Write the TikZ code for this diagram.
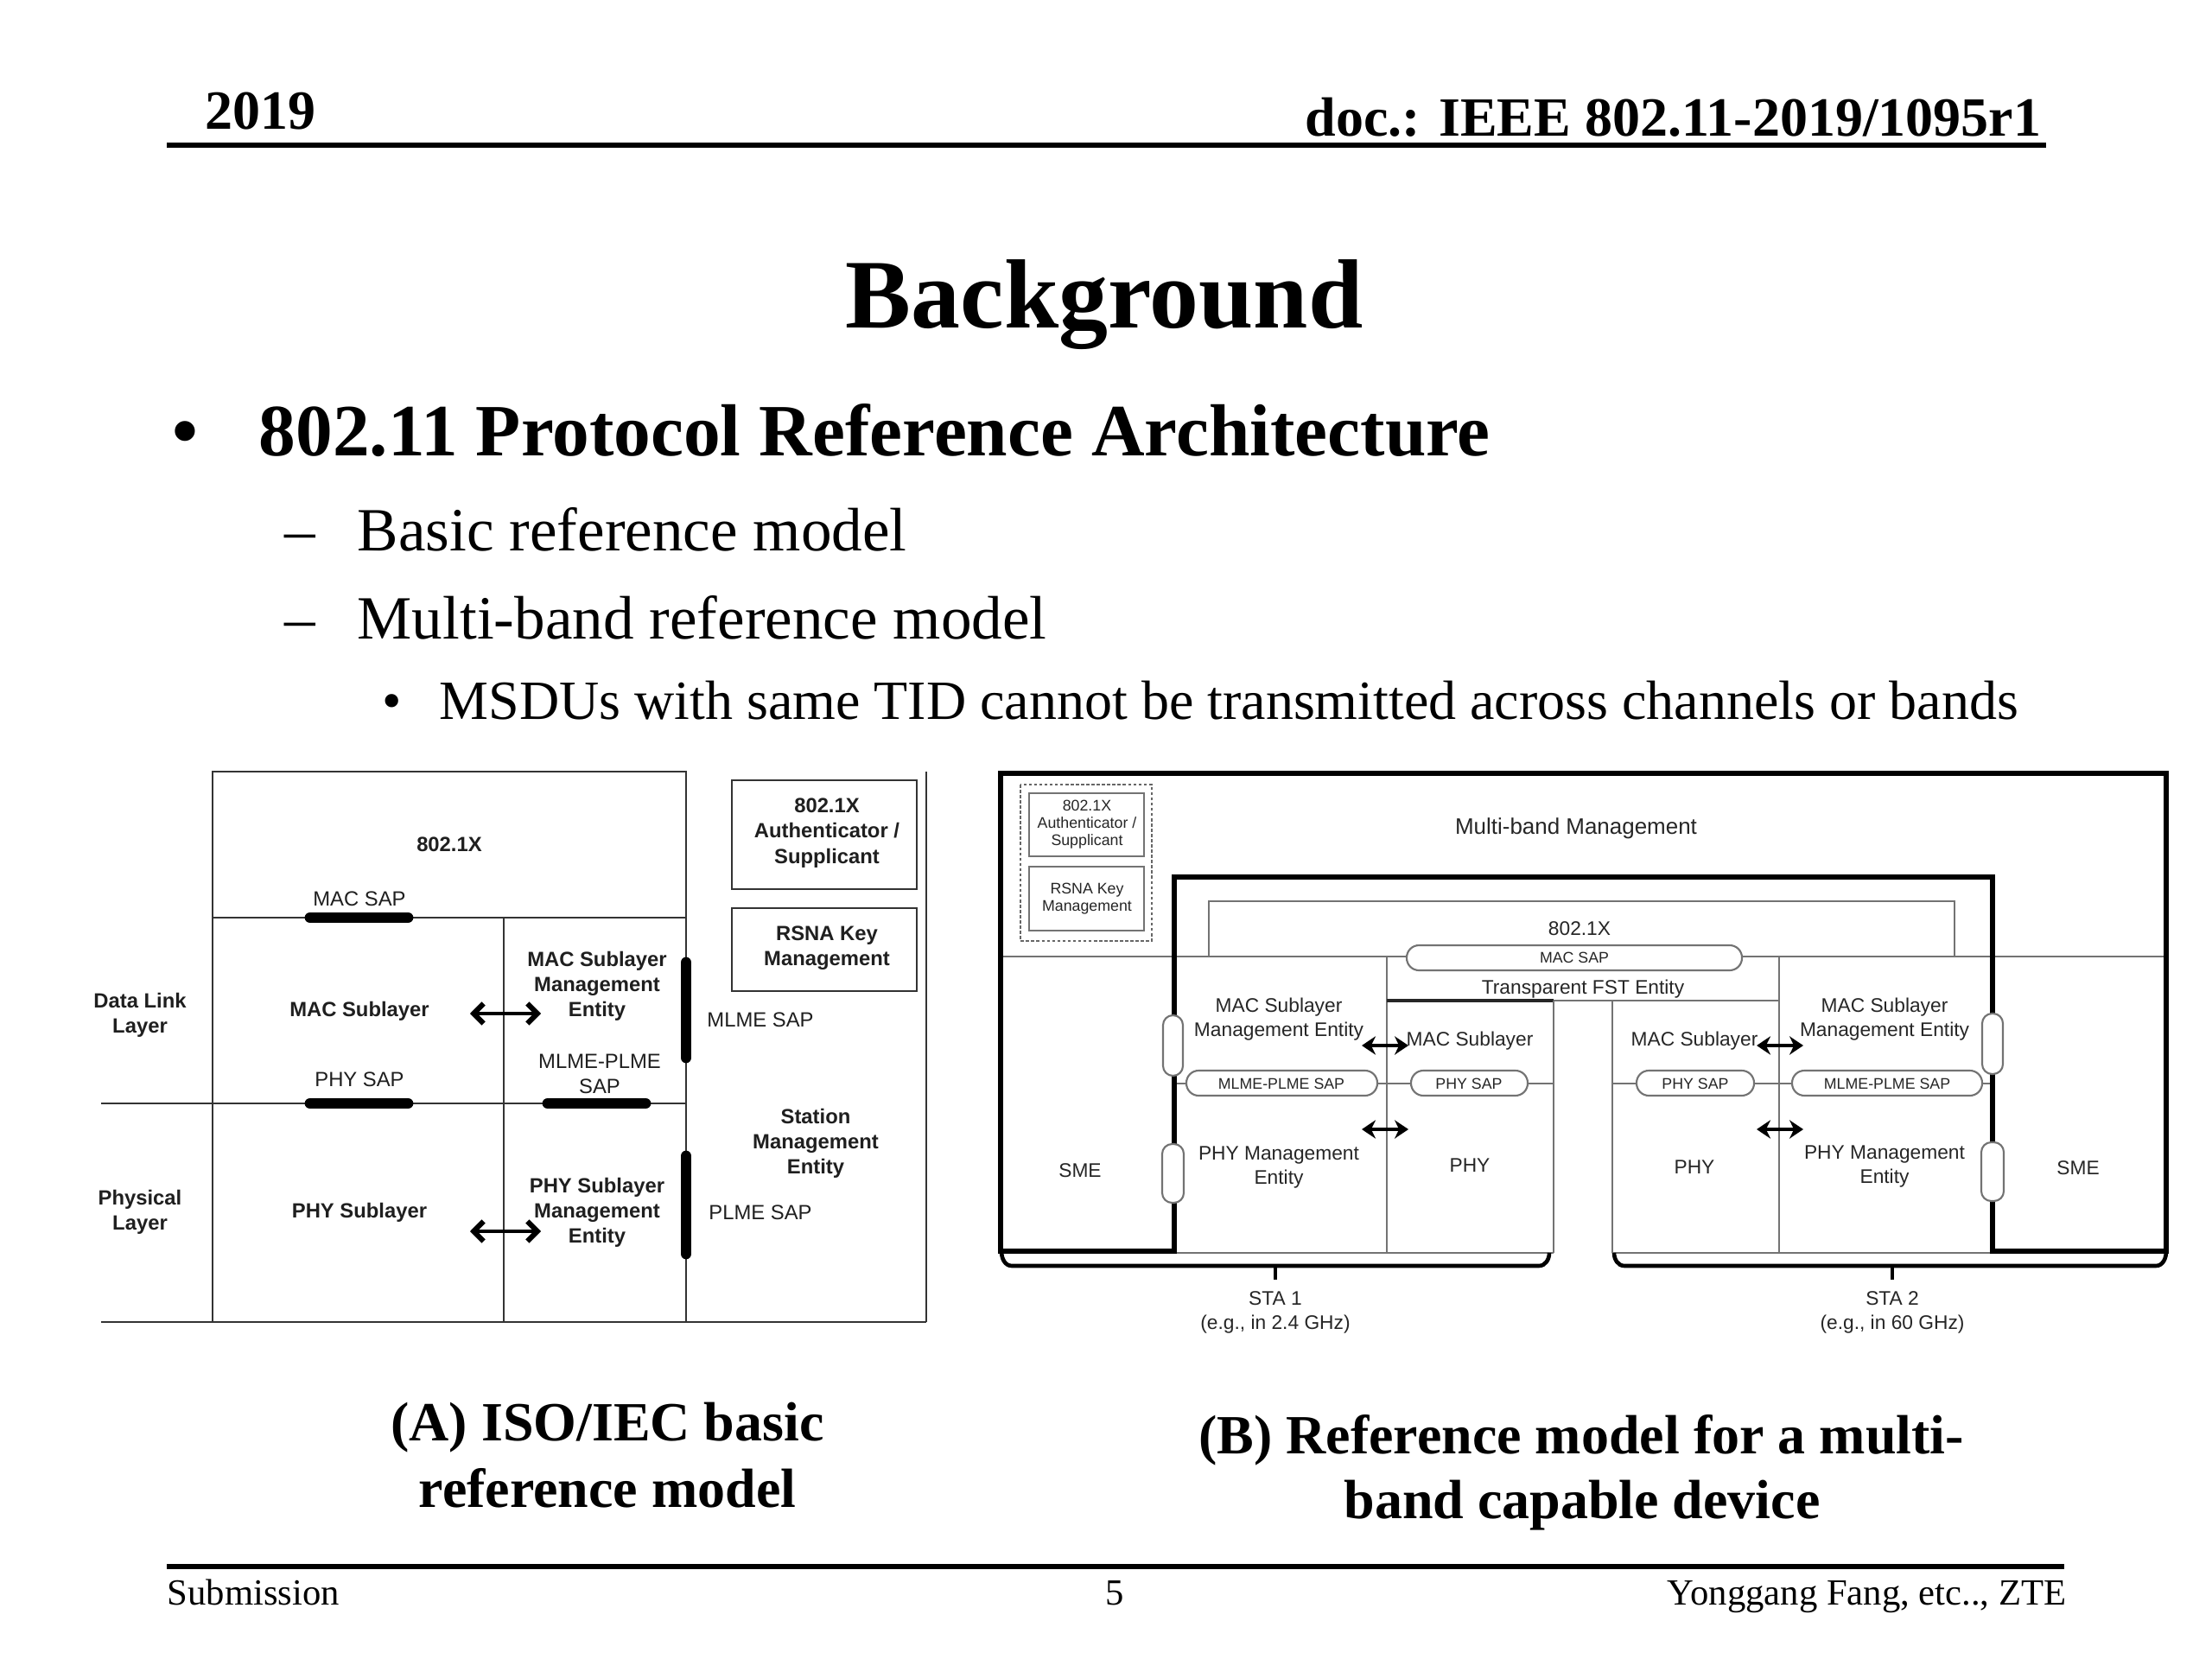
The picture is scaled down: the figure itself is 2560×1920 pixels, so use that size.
\documentclass[tikz,border=0pt]{standalone}
\usepackage{fontspec}
\setmainfont{Liberation Serif}
\newfontfamily\arialf{Liberation Sans}
\usetikzlibrary{arrows.meta}
\begin{document}
\begin{tikzpicture}[x=0.28125pt,y=-0.28125pt,
  txt/.style={inner sep=0pt},
  hdr/.style={txt,font=\bfseries\fontsize{18}{22}\selectfont},
  ttl/.style={txt,font=\bfseries\fontsize{32}{38}\selectfont},
  lvone/.style={txt,font=\bfseries\fontsize{24}{29}\selectfont},
  lvtwo/.style={txt,font=\fontsize{20}{24}\selectfont},
  lvthree/.style={txt,font=\fontsize{18}{22}\selectfont},
  capt/.style={txt,font=\bfseries\fontsize{18}{21.7}\selectfont,align=center},
  foot/.style={txt,font=\fontsize{12}{14}\selectfont},
  alab/.style={txt,font=\arialf\bfseries\fontsize{6.7}{8.2}\selectfont,align=center,text=black!88},
  alabr/.style={txt,font=\arialf\fontsize{6.7}{8.2}\selectfont,align=center,text=black!88},
  aline/.style={draw=black!80,line width=0.6pt},
  sapbar/.style={line width=3.6pt,line cap=round,draw=black},
  aarrow/.style={{Straight Barb[length=3.2pt,width=6.5pt,line width=1.7pt]}-{Straight Barb[length=3.2pt,width=6.5pt,line width=1.7pt]},line width=1.2pt},
  blab/.style={txt,font=\arialf\fontsize{6.4}{7.9}\selectfont,align=center,text=black!85},
  bbig/.style={txt,font=\arialf\fontsize{7.3}{8.5}\selectfont,align=center,text=black!85},
  bsmall/.style={txt,font=\arialf\fontsize{5}{5.7}\selectfont,align=center,text=black!85},
  bline/.style={draw=black!55,line width=0.6pt},
  bthick/.style={draw=black,line width=1.5pt,line join=miter},
  pill/.style={draw=black!55,line width=0.6pt,fill=white,rounded corners=4pt},
  vpill/.style={draw=black!55,line width=0.6pt,fill=white,rounded corners=3.2pt},
  barrow/.style={{Stealth[length=4.5pt,width=6pt]}-{Stealth[length=4.5pt,width=6pt]},line width=1.3pt},
  brace/.style={draw=black,line width=1.3pt},
]
\useasboundingbox (0,0) rectangle (2560,1920);
\fill[white] (0,0) rectangle (2560,1920);

% ---------- header ----------
\node[hdr,anchor=base west] (year) at (237,150) {2019};
\node[hdr,anchor=base east] (doc) at (2363,158) {doc.: IEEE 802.11-2019/1095r1};
\draw[line width=1.5pt] (193,168) -- (2368,168);

% ---------- title and bullets ----------
\node[ttl,anchor=base] (title) at (1278,380) {Background};
\node[lvone,anchor=base] (bul1) at (214,528) {•};
\node[lvone,anchor=base west] (l1) at (299,528) {802.11 Protocol Reference Architecture};
\node[lvtwo,anchor=base] (dash1) at (347,638) {–};
\node[lvtwo,anchor=base west] (l2a) at (413,638) {Basic reference model};
\node[lvtwo,anchor=base] (dash2) at (347,740) {–};
\node[lvtwo,anchor=base west] (l2b) at (413,740) {Multi-band reference model};
\node[lvthree,anchor=base] (bul3) at (454,832) {•};
\node[lvthree,anchor=base west] (l3) at (508,832) {MSDUs with same TID cannot be transmitted across channels or bands};

% ---------- diagram A ----------
\draw[aline] (246,1530) -- (246,893) -- (794,893) -- (794,1530);
\draw[aline] (246,1062) -- (794,1062);
\draw[aline] (583,1062) -- (583,1530);
\draw[aline] (117,1277) -- (794,1277);
\draw[aline] (117,1530) -- (1072,1530);
\draw[aline] (1072,893) -- (1072,1530);
\draw[aline] (847,903) rectangle (1061,1029);
\draw[aline] (847,1051) rectangle (1061,1147);

\draw[sapbar] (359,1062) -- (472,1062);
\draw[sapbar] (359,1277) -- (472,1277);
\draw[sapbar] (634,1277) -- (747,1277);
\draw[sapbar] (794,1114) -- (794,1224);
\draw[sapbar] (794,1338) -- (794,1451);

\coordinate (aAl) at (544,1173); \coordinate (aAr) at (626,1173);
\coordinate (aBl) at (544,1425); \coordinate (aBr) at (626,1425);
\draw[aarrow] (aAl) -- (aAr);
\draw[aarrow] (aBl) -- (aBr);

\node[alab] (a8021x) at (520,977) {802.1X};
\node[alabr] (amacsap) at (416,1040) {MAC SAP};
\node[alab] (amacsub) at (416,1170) {MAC Sublayer};
\node[alab] (amlme) at (691,1141) {MAC Sublayer\\Management\\Entity};
\node[alabr] (amlmesap) at (880,1180) {MLME SAP};
\node[alabr] (amlmeplme) at (694,1243) {MLME-PLME\\SAP};
\node[alabr] (aphysap) at (416,1249) {PHY SAP};
\node[alab] (asme) at (944,1323) {Station\\Management\\Entity};
\node[alabr] (aplmesap) at (880,1403) {PLME SAP};
\node[alab] (aphysub) at (416,1403) {PHY Sublayer};
\node[alab] (aplme) at (691,1403) {PHY Sublayer\\Management\\Entity};
\node[alab] (adll) at (162,1175) {Data Link\\Layer};
\node[alab] (aphl) at (162,1403) {Physical\\Layer};
\node[alab] (aauth) at (957,964) {802.1X\\Authenticator /\\Supplicant};
\node[alab] (arsna) at (957,1097) {RSNA Key\\Management};

% ---------- diagram B ----------
\draw[bline] (1158,1107) -- (2507,1107);
\draw[bline] (1399,1107) -- (1399,1043) -- (2262,1043) -- (2262,1107);
\draw[bline] (1605,1450) -- (1605,1107);
\draw[bline] (2059,1450) -- (2059,1107);
\draw[bline] (1605,1158) -- (2059,1158);
\draw[draw=black!85,line width=0.9pt] (1605,1158) -- (1798,1158);
\draw[bline] (1798,1158) -- (1798,1450);
\draw[bline] (1866,1158) -- (1866,1450);
\draw[bline] (1359,1450) -- (1798,1450);
\draw[bline] (1866,1450) -- (2306,1450);
\draw[bline] (1359,1254) -- (1798,1254);
\draw[bline] (1866,1254) -- (2306,1254);

\draw[bthick] (1158,1448) -- (1158,895) -- (2507,895) -- (2507,1448) -- (2306,1448) -- (2306,1015) -- (1359,1015) -- (1359,1448) -- cycle;

\draw[draw=black!60,dash pattern=on 1pt off 0.7pt,line width=0.5pt] (1181,908) rectangle (1333,1089);
\draw[bline] (1191,918) rectangle (1324,991);
\draw[bline] (1191,1003) rectangle (1324,1077);

\draw[pill] (1628,1094) rectangle (2016,1123);
\draw[pill] (1373,1239) rectangle (1594,1268);
\draw[pill] (1633,1239) rectangle (1768,1268);
\draw[pill] (1894,1239) rectangle (2030,1268);
\draw[pill] (2074,1239) rectangle (2294,1268);
\draw[vpill] (1346,1175) rectangle (1369,1245);
\draw[vpill] (1345,1324) rectangle (1370,1392);
\draw[vpill] (2294,1173) rectangle (2318,1243);
\draw[vpill] (2293,1322) rectangle (2319,1390);

\coordinate (bAl) at (1576,1210); \coordinate (bAr) at (1630,1210);
\coordinate (bBl) at (1576,1307); \coordinate (bBr) at (1630,1307);
\coordinate (bCl) at (2033,1210); \coordinate (bCr) at (2087,1210);
\coordinate (bDl) at (2033,1307); \coordinate (bDr) at (2087,1307);
\draw[barrow] (bAl) -- (bAr);
\draw[barrow] (bBl) -- (bBr);
\draw[barrow] (bCl) -- (bCr);
\draw[barrow] (bDl) -- (bDr);

\draw[brace] (1159,1448) to[out=-90,in=180] (1171,1465) -- (1781,1465) to[out=0,in=-90] (1793,1450);
\draw[brace] (1868,1450) to[out=-90,in=180] (1880,1465) -- (2495,1465) to[out=0,in=-90] (2507,1448);
\coordinate (brA) at (1476,1465); \coordinate (brB) at (2190,1465);
\draw[brace] (brA) -- ++(0,16);
\draw[brace] (brB) -- ++(0,16);

\node[bsmall] (bauth) at (1258,954) {802.1X\\Authenticator /\\Supplicant};
\node[bsmall] (brsna) at (1258,1040) {RSNA Key\\Management};
\node[bbig] (bmbm) at (1824,959) {Multi-band Management};
\node[blab] (b8021x) at (1828,1075) {802.1X};
\node[bsmall] (bmacsap) at (1822,1108) {MAC SAP};
\node[blab] (bfst) at (1832,1145) {Transparent FST Entity};
\node[blab] (bmlme1) at (1480,1180) {MAC Sublayer\\Management Entity};
\node[blab] (bmac1) at (1701,1205) {MAC Sublayer};
\node[blab] (bmac2) at (1961,1205) {MAC Sublayer};
\node[blab] (bmlme2) at (2181,1180) {MAC Sublayer\\Management Entity};
\node[bsmall] (bmpsap1) at (1483,1254) {MLME-PLME SAP};
\node[bsmall] (bphysap1) at (1700,1254) {PHY SAP};
\node[bsmall] (bphysap2) at (1962,1254) {PHY SAP};
\node[bsmall] (bmpsap2) at (2184,1254) {MLME-PLME SAP};
\node[blab] (bsme1) at (1250,1355) {SME};
\node[blab] (bplme1) at (1480,1351) {PHY Management\\Entity};
\node[blab] (bphy1) at (1701,1349) {PHY};
\node[blab] (bphy2) at (1961,1351) {PHY};
\node[blab] (bplme2) at (2181,1350) {PHY Management\\Entity};
\node[blab] (bsme2) at (2405,1352) {SME};
\node[blab] (bsta1) at (1476,1519) {STA 1\\(e.g., in 2.4 GHz)};
\node[blab] (bsta2) at (2190,1519) {STA 2\\(e.g., in 60 GHz)};

% ---------- captions ----------
\node[capt,anchor=base] (capA1) at (703,1667) {(A) ISO/IEC basic};
\node[capt,anchor=base] (capA2) at (703,1744) {reference model};
\node[capt,anchor=base] (capB1) at (1830,1682) {(B) Reference model for a multi-};
\node[capt,anchor=base] (capB2) at (1831,1757) {band capable device};

% ---------- footer ----------
\draw[line width=1.5pt] (193,1813) -- (2389,1813);
\node[foot,anchor=base west] (sub) at (193,1857) {Submission};
\node[foot,anchor=base] (pg) at (1290,1857) {5};
\node[foot,anchor=base east] (auth) at (2392,1857) {Yonggang Fang, etc.., ZTE};
\end{tikzpicture}
\end{document}
